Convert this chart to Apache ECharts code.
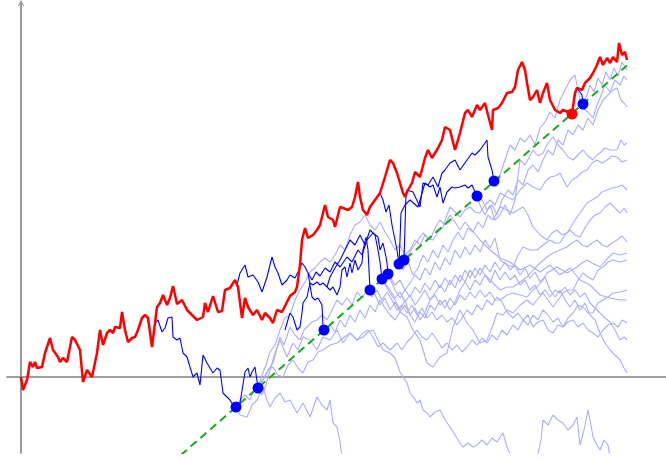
<!DOCTYPE html>
<html><head><meta charset="utf-8">
<script src="https://cdn.jsdelivr.net/npm/echarts@6/dist/echarts.min.js"></script>
<style>html,body{margin:0;padding:0;background:#fff}#c{width:666px;height:461px}</style>
</head><body><div id="c"></div>
<script>
// time step t, level y
const redPath = [[0,0],[2,-13],[6,-3],[9,15],[12,10],[14,15],[16,9],[21,10],[24,24],[29,39],[32,27],[37,20],[39,15],[42,19],[46,15],[51,40],[54,37],[59,27],[62,-5],[66,7],[71,0],[76,24],[79,47],[82,32],[86,44],[89,47],[92,44],[94,50],[99,49],[101,65],[104,47],[107,35],[111,39],[114,40],[117,47],[121,59],[124,62],[127,59],[131,30],[132,32],[136,70],[139,74],[142,82],[146,72],[149,79],[152,91],[156,73],[161,77],[166,67],[171,62],[176,57],[182,60],[184,74],[187,65],[192,81],[197,65],[201,66],[204,87],[209,89],[214,97],[217,90],[221,59],[224,79],[227,70],[232,62],[236,67],[241,57],[244,64],[249,59],[252,54],[256,67],[261,65],[266,75],[269,81],[274,85],[276,90],[279,112],[281,137],[284,149],[287,139],[292,142],[296,147],[299,152],[304,172],[307,160],[312,157],[314,150],[319,170],[322,169],[327,167],[331,170],[334,180],[337,195],[339,180],[342,167],[346,162],[349,170],[354,177],[359,184],[364,200],[369,217],[372,214],[376,204],[379,194],[382,184],[384,180],[387,187],[391,194],[394,205],[399,200],[404,219],[407,227],[411,219],[414,224],[417,229],[421,237],[424,250],[429,247],[434,227],[439,244],[444,264],[447,267],[451,260],[456,272],[459,267],[464,274],[467,262],[471,247],[472,267],[477,269],[481,274],[486,284],[491,285],[494,290],[497,307],[501,315],[504,307],[506,294],[509,277],[512,280],[516,287],[519,274],[522,284],[526,294],[529,277],[534,267],[539,264],[542,267],[547,265],[551,263],[554,284],[556,289],[561,287],[564,294],[569,299],[572,304],[576,312],[579,320],[582,312],[586,319],[589,314],[592,320],[596,315],[598,334],[601,322],[604,325],[606,317]];

const boundaryLine = [[150,-86.7],[606,311.5]];

const blueDotT = [215,237,303,349,361,367,378,383,456,473,562];
const blueDotY = [-30,-11,47,87,98,103,113,117,181,196,273];
const redDotT = [551];
const redDotY = [263];

const darkA = [[134,54],[137,57],[141,45],[144,49],[147,59],[151,60],[152,40],[156,37],[159,39],[162,24],[166,20],[169,10],[172,0],[176,4],[179,-8],[182,22],[186,14],[189,9],[192,4],[196,9],[199,7],[202,-16],[206,-20],[209,-23],[212,-28],[215,-30],[219,-26],[224,5],[227,9],[229,0],[231,5],[234,10],[237,-11]];
const darkB = [[216,92],[219,104],[224,112],[227,100],[232,102],[237,95],[241,85],[246,100],[251,120],[254,110],[257,104],[261,92],[266,97],[269,102],[274,99],[277,105],[281,114],[284,110],[287,104],[291,80],[294,77],[297,79],[301,72],[302,50],[303,47]];
const darkC = [[264,47],[266,54],[269,64],[272,60],[276,47],[279,50],[281,64],[282,74],[286,80],[289,94],[292,92],[296,95],[299,92],[302,94],[306,90],[309,87],[312,90],[316,82],[319,90],[321,107],[324,110],[326,100],[329,114],[331,104],[334,117],[337,107],[341,114],[342,127],[345,140],[347,127],[349,87]];
const darkD = [[287,104],[291,97],[295,105],[299,101],[304,109],[309,105],[314,115],[319,110],[326,120],[331,115],[337,127],[341,122],[346,137],[352,144],[357,140],[359,127],[362,134],[365,120],[366,114],[367,103]];
const darkE = [[306,90],[309,100],[314,109],[319,117],[324,127],[329,137],[334,132],[339,142],[344,132],[349,147],[354,142],[357,127],[359,115],[361,98]];
const darkF = [[359,184],[362,177],[365,165],[368,172],[371,152],[374,137],[376,127],[378,113]];
const darkG = [[383,117],[384,150],[385,184],[386,187],[392,185],[399,170],[402,194],[407,192],[412,200],[417,190],[421,204],[424,207],[429,214],[434,217],[439,207],[446,217],[451,224],[454,222],[459,227],[464,234],[466,237],[467,220],[471,207],[473,196]];
const darkH = [[378,113],[379,137],[380,164],[384,172],[389,177],[397,170],[404,194],[409,190],[412,192],[416,180],[419,190],[422,174],[426,185],[431,190],[434,189],[439,190],[444,192],[447,189],[451,192],[454,185],[456,181]];
const darkI = [[551,263],[554,282],[556,289],[559,285],[561,282],[562,273]];

const light1 = [[562,273],[566,282],[569,292],[573,285],[577,299],[581,292],[585,305],[589,297],[593,309],[597,301],[601,315],[606,307]];
const light2 = [[473,196],[479,202],[484,217],[489,232],[494,227],[499,239],[504,235],[509,242],[514,232],[519,249],[524,255],[529,265],[534,259],[539,277],[544,287],[549,297],[554,302],[557,287],[561,269],[567,265],[572,259],[576,272],[579,279],[584,292],[589,285],[594,297],[599,292],[603,301],[606,297]];
const light3 = [[456,181],[461,177],[466,167],[471,172],[476,162],[481,177],[487,187],[492,182],[497,197],[502,192],[507,207],[512,212],[517,205],[522,217],[527,227],[532,222],[537,237],[542,232],[547,247],[552,242],[557,252],[562,247],[567,259],[572,252],[577,267],[582,277],[587,282],[592,287],[596,289],[600,277],[603,274],[606,270]];
const light4 = [[456,181],[459,172],[464,162],[469,172],[474,157],[479,162],[484,172],[489,162],[494,177],[499,217],[504,212],[512,227],[517,221],[522,224],[527,234],[532,240],[537,232],[542,227],[547,220],[552,217],[557,222],[562,227],[567,221],[572,217],[576,222],[579,224],[584,229],[589,227],[596,227],[600,237],[603,232],[606,234]];
const light5 = [[383,117],[387,122],[392,130],[397,137],[402,144],[407,139],[412,137],[417,145],[422,150],[426,162],[429,170],[434,165],[439,160],[444,167],[449,170],[454,165],[459,164],[464,172],[469,177],[474,172],[479,184],[486,180],[492,177],[499,187],[506,194],[512,190],[519,187],[524,195],[529,200],[534,201],[539,204],[546,190],[551,197],[556,200],[561,205],[566,207],[571,214],[576,217],[581,214],[586,217],[591,221],[596,220],[601,215],[606,217]];
const light6 = [[378,113],[382,107],[387,115],[392,102],[397,109],[402,122],[407,115],[412,127],[417,119],[422,132],[427,125],[432,137],[437,145],[442,137],[447,149],[452,145],[457,155],[462,149],[467,162],[472,157],[479,170],[486,167],[492,164],[497,167],[502,170],[507,162],[512,150],[519,142],[526,137],[531,144],[536,147],[541,142],[546,144],[551,152],[556,160],[561,167],[566,174],[571,177],[576,180],[581,185],[586,187],[591,189],[596,190],[601,192],[606,187]];
const light7 = [[367,103],[374,92],[379,97],[384,87],[389,94],[394,102],[399,97],[404,109],[409,102],[414,115],[419,107],[424,119],[429,112],[434,127],[439,119],[444,130],[449,122],[454,132],[459,125],[464,137],[469,129],[474,139],[479,117],[486,112],[492,110],[497,122],[502,130],[509,127],[516,127],[522,132],[529,137],[534,134],[539,134],[544,142],[549,147],[554,142],[559,140],[564,149],[569,157],[574,162],[579,164],[584,170],[589,174],[594,169],[599,164],[603,169],[606,164]];
const light8 = [[361,98],[369,87],[374,79],[379,85],[384,75],[389,82],[394,72],[399,79],[404,87],[409,77],[414,84],[419,92],[424,85],[429,97],[434,89],[439,102],[444,95],[449,107],[454,99],[459,109],[464,102],[469,97],[474,92],[479,87],[486,90],[492,90],[499,95],[506,100],[512,107],[519,114],[526,120],[532,124],[539,127],[546,130],[551,134],[556,137],[561,132],[566,130],[571,134],[576,137],[581,132],[586,130],[591,134],[596,137],[601,141],[606,135]];
const light9 = [[349,87],[354,82],[359,72],[364,79],[369,67],[374,75],[379,65],[384,72],[389,62],[394,55],[399,65],[404,59],[409,72],[414,67],[419,77],[424,69],[429,79],[434,72],[439,82],[444,77],[449,85],[454,79],[459,87],[464,80],[469,85],[474,77],[479,77],[486,82],[492,84],[499,82],[506,80],[512,87],[516,90],[522,97],[526,104],[531,107],[536,110],[541,107],[546,104],[551,107],[556,110],[561,114],[566,117],[571,114],[579,110],[585,117],[592,124],[599,122],[606,124]];
const light10 = [[303,47],[309,52],[314,45],[319,57],[324,50],[329,62],[334,55],[339,67],[344,59],[349,72],[354,65],[359,77],[364,69],[369,62],[374,57],[379,65],[386,60],[392,47],[399,37],[406,14],[412,10],[419,20],[426,24],[432,50],[439,67],[446,54],[452,47],[459,34],[466,37],[472,52],[476,64],[482,62],[486,67],[492,64],[499,72],[506,77],[512,72],[516,77],[522,84],[527,77],[532,70],[537,77],[542,84],[547,87],[552,87],[557,97],[562,104],[567,100],[572,97],[577,107],[582,110],[587,115],[592,117],[599,115],[606,117]];
const light11 = [[237,-11],[242,-3],[247,7],[252,14],[256,29],[259,40],[263,32],[269,50],[274,42],[279,37],[283,47],[286,50],[291,55],[296,57],[301,62],[306,57],[311,67],[316,77],[321,72],[326,79],[331,72],[336,85],[341,79],[346,87],[351,80],[356,87],[361,77],[366,85],[371,77],[376,67],[381,72],[386,64],[391,72],[396,62],[401,69],[406,59],[411,65],[416,57],[421,62],[426,55],[431,59],[436,52],[441,59],[446,67],[451,62],[456,72],[461,67],[466,77],[471,72],[476,80],[481,75],[486,65],[492,59],[497,64],[502,57],[507,62],[512,50],[517,55],[522,57],[527,47],[532,44],[537,52],[542,50],[547,59],[552,64],[557,72],[562,70],[567,64],[572,64],[577,74],[582,77],[587,80],[592,84],[599,85],[606,87]];
const light12 = [[237,-11],[241,-18],[245,-8],[249,7],[254,24],[259,37],[266,20],[272,34],[277,27],[282,40],[289,37],[296,27],[302,40],[309,37],[316,47],[322,34],[329,44],[336,37],[342,44],[347,47],[352,40],[357,30],[362,34],[369,27],[376,34],[381,27],[386,35],[391,40],[396,47],[401,40],[406,37],[411,44],[416,37],[421,29],[426,34],[431,27],[436,32],[441,25],[446,30],[451,37],[456,32],[461,39],[466,34],[471,42],[476,37],[481,47],[486,42],[492,52],[497,47],[502,57],[507,52],[512,62],[517,57],[522,67],[527,62],[532,55],[537,59],[542,50],[547,55],[552,57],[557,50],[562,54],[567,47],[572,44],[577,40],[582,47],[587,52],[592,54],[597,50],[601,57],[606,54]];
const light13 = [[361,98],[369,84],[374,77],[379,67],[384,77],[389,62],[394,69],[399,57],[404,65],[409,77],[414,82],[419,72],[424,77],[429,67],[434,75],[439,87],[444,95],[449,87],[454,97],[459,92],[464,102],[469,94],[474,107],[479,97],[484,105],[489,97],[494,102],[499,92],[504,97],[509,87],[514,92],[519,82],[524,87],[529,80],[534,87],[539,84],[544,90],[549,82],[554,87],[559,80],[564,84],[569,74],[574,69],[579,64],[584,59],[589,55],[594,47],[599,37],[603,40],[606,37]];
const light14 = [[367,103],[374,87],[379,79],[384,87],[389,80],[394,90],[399,84],[404,94],[409,87],[414,97],[419,89],[424,99],[429,92],[434,102],[439,95],[444,107],[449,99],[454,109],[459,102],[464,112],[469,105],[474,115],[479,107],[484,115],[489,107],[494,112],[499,102],[504,109],[509,99],[514,105],[519,95],[524,100],[529,87],[534,80],[539,87],[544,77],[549,70],[554,77],[559,67],[564,74],[569,62],[574,57],[579,44],[584,34],[589,27],[594,22],[599,17],[603,9],[606,4]];
const light15 = [[215,-30],[219,-38],[226,-40],[231,-28],[236,-23],[242,-10],[246,-23],[249,-30],[254,-21],[259,-16],[264,-25],[269,-23],[276,-36],[282,-26],[289,-40],[296,-20],[301,-28],[306,-33],[309,-23],[312,-46],[316,-50],[319,-65],[322,-88]];
const light16 = [[215,-30],[219,-23],[224,-18],[229,-23],[235,-8],[242,-3],[247,7],[252,10],[257,2],[262,0],[267,12],[272,17],[277,9],[282,4],[287,15],[292,17],[297,25],[302,27],[309,32],[316,34],[322,39],[329,44],[336,37],[342,40],[347,45],[352,47],[357,37],[362,27],[369,24],[374,19],[379,5],[382,0],[386,-6],[389,-16],[393,-21],[396,-26],[399,-23],[402,-33],[406,-36],[409,-40],[414,-35],[419,-33],[424,-43],[429,-50],[434,-58],[439,-66],[442,-70],[447,-66],[452,-70],[456,-68],[461,-63],[466,-68],[471,-61],[476,-65],[482,-56],[486,-70],[491,-81],[504,-88],[516,-81],[520,-63],[522,-43],[527,-48],[532,-38],[537,-43],[542,-46],[547,-53],[552,-48],[556,-40],[559,-68],[563,-53],[567,-33],[570,-48],[572,-60],[576,-68],[579,-73],[583,-63],[587,-68],[591,-93]];
const light17 = [[237,-11],[241,2],[245,12],[249,25],[254,32],[259,47],[264,59],[269,62],[274,77],[279,87],[284,95],[289,105],[294,109],[299,115],[304,119],[309,115],[314,122],[319,132],[324,127],[329,142],[334,152],[339,155],[344,162],[349,152],[354,147],[359,155],[364,145],[369,137],[374,127],[379,132],[384,122],[389,127],[394,137],[399,132],[404,142],[409,137],[414,149],[419,157],[424,152],[429,162],[434,155],[439,147],[444,155],[449,149],[459,137],[469,127],[479,119],[489,115],[499,107],[509,112],[519,105],[529,112],[539,102],[549,109],[559,97],[569,92],[579,82],[589,79],[599,77],[606,77]];

const lightPaths = [light1,light2,light3,light4,light5,light6,light7,light8,light9,light10,light11,light12,light13,light14,light15,light16,light17];
const darkPaths = [darkA,darkB,darkC,darkD,darkE,darkF,darkG,darkH,darkI];

const series = [];
lightPaths.forEach(p => series.push({type:'line', data:p, showSymbol:false, silent:true, z:1,
  lineStyle:{color:'#adadff', width:1.1}}));
series.push({type:'line', data:boundaryLine, showSymbol:false, z:2,
  lineStyle:{color:'#1aaa1a', width:2, type:[8,5]}});
darkPaths.forEach(p => series.push({type:'line', data:p, showSymbol:false, z:3,
  lineStyle:{color:'#0000ff', width:1.1}}));
series.push({type:'line', data:redPath, showSymbol:false, z:4,
  lineStyle:{color:'#ff0000', width:2.5}});
series.push({type:'scatter', data:redDotT.map((t,i)=>[t,redDotY[i]]), symbolSize:11, z:5,
  itemStyle:{color:'#ff0000', opacity:1}});
series.push({type:'scatter', data:blueDotT.map((t,i)=>[t,blueDotY[i]]), symbolSize:11, z:6,
  itemStyle:{color:'#0000ff', opacity:1}});

const chart = echarts.init(document.getElementById('c'), null, {renderer:'canvas'});
chart.setOption({
  animation:false,
  grid:{left:7, right:0, top:3, bottom:8, containLabel:false},
  xAxis:{type:'value', min:-14, max:645, splitLine:{show:false}, axisTick:{show:false}, axisLabel:{show:false},
    axisLine:{onZero:true, lineStyle:{color:'#808080', width:1.6}}},
  yAxis:{type:'value', min:-76, max:374, splitLine:{show:false}, axisTick:{show:false}, axisLabel:{show:false},
    axisLine:{onZero:true, symbol:['none','path://M0,10 L5,0 L10,10 L8.6,10 L5,2.8 L1.4,10 Z'], symbolSize:[9,6],
      lineStyle:{color:'#808080', width:1.6}}},
  series: series
});
</script></body></html>
